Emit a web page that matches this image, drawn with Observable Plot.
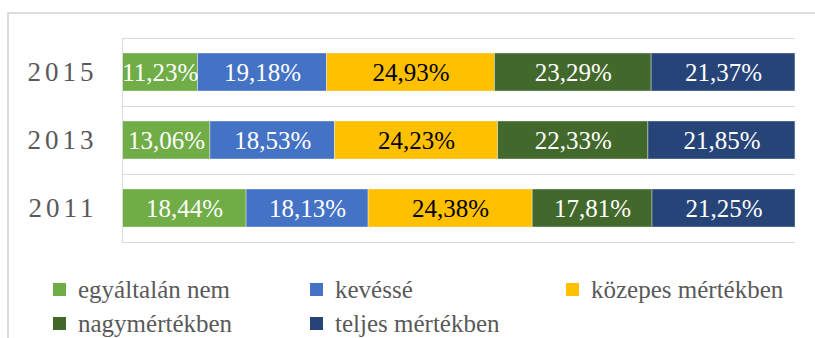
<!DOCTYPE html>
<html>
<head>
<meta charset="utf-8">
<script src="https://cdn.jsdelivr.net/npm/d3@7"></script>
<script src="https://cdn.jsdelivr.net/npm/@observablehq/plot@0.6"></script>
<style>
  html, body { margin: 0; padding: 0; background: #fff; width: 815px; height: 338px; overflow: hidden; }
  #frame { position: absolute; left: 7px; top: 12px; width: 900px; height: 400px;
           border-left: 2px solid #dcdcdc; border-top: 2px solid #dcdcdc; box-sizing: border-box; }
  #chart { position: absolute; left: 0; top: 0; }
  #chart [aria-label="y-axis tick label"] text { letter-spacing: 4px; }
  .legend { position: absolute; left: 53px; top: 272px; display: grid; grid-template-columns: 257px 256px auto;
            font-family: "Liberation Serif", serif; font-size: 25px; color: #595959; }
  .legend .item { display: flex; align-items: center; height: 34px; line-height: 1; white-space: nowrap; }
  .legend .sw { width: 13px; height: 13px; margin-right: 12px; flex: none; }
</style>
</head>
<body>
<div id="frame"></div>
<div id="chart"></div>
<div class="legend" id="legend"></div>
<script>
// Survey years, top to bottom
const years = ["2015", "2013", "2011"];
// Answer levels, in stacking order
const levels = ["egyáltalán nem", "kevéssé", "közepes mértékben", "nagymértékben", "teljes mértékben"];
const colors = ["#70ad47", "#4472c4", "#ffc000", "#43682b", "#264478"];
// Shares (%) per year, one entry per level
const share2015 = [11.23, 19.18, 24.93, 23.29, 21.37];
const share2013 = [13.06, 18.53, 24.23, 22.33, 21.85];
const share2011 = [18.44, 18.13, 24.38, 17.81, 21.25];

const shares = [share2015, share2013, share2011];

// Long table with cumulative start/end of each segment
const rows = years.flatMap((year, i) => {
  let acc = 0;
  return shares[i].map((value, j) => {
    const r = {year, level: levels[j], value, x1: acc, x2: acc + value};
    acc += value;
    return r;
  });
});
const total = d3.max(shares, s => d3.sum(s));
const fmt = v => v.toFixed(2).replace(".", ",") + "%";
const darkText = "közepes mértékben";

const width = 815, height = 262, marginTop = 38, marginBottom = 20;
const step = (height - marginTop - marginBottom) / years.length;

const chart = Plot.plot({
  width, height,
  marginLeft: 122, marginRight: 20, marginTop, marginBottom,
  style: {fontFamily: "'Liberation Serif', serif", background: "transparent"},
  x: {domain: [0, total], axis: null},
  y: {domain: years, paddingInner: 0.44, paddingOuter: 0.22, label: null},
  color: {domain: levels, range: colors},
  marks: [
    // separators between the year rows
    Plot.ruleY([years[0]], {dy: -step / 2, stroke: "#d9d9d9", strokeWidth: 1}),
    Plot.ruleY(years, {dy: step / 2, stroke: "#d9d9d9", strokeWidth: 1}),
    Plot.barX(rows, {x1: "x1", x2: "x2", y: "year", fill: "level",
                     stroke: "#fff", strokeOpacity: 0.5, strokeWidth: 0.75}),
    Plot.ruleX([0], {stroke: "#d9d9d9", strokeWidth: 1}),
    Plot.text(rows, {filter: d => d.level !== darkText, x: d => (d.x1 + d.x2) / 2, y: "year",
                     text: d => fmt(d.value), fill: "#fff", fontSize: 25}),
    Plot.text(rows, {filter: d => d.level === darkText, x: d => (d.x1 + d.x2) / 2, y: "year",
                     text: d => fmt(d.value), fill: "#000", fontSize: 25}),
    Plot.axisY({tickSize: 0, tickPadding: 25, fontSize: 27, fill: "#595959"})
  ]
});
document.getElementById("chart").append(chart);

// Legend built from the chart's color scale: three columns, two rows
const color = chart.scale("color");
const legend = document.getElementById("legend");
color.domain.forEach((name, i) => {
  const item = document.createElement("div");
  item.className = "item";
  const sw = document.createElement("span");
  sw.className = "sw";
  sw.style.background = color.range[i];
  const label = document.createElement("span");
  label.textContent = name;
  item.append(sw, label);
  legend.append(item);
});
</script>
</body>
</html>
